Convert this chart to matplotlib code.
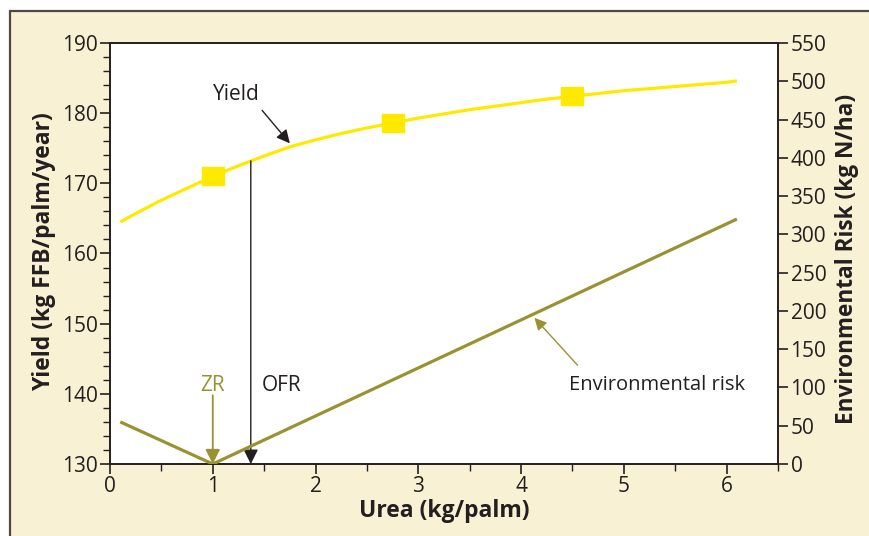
import numpy as np
import matplotlib.pyplot as plt
from matplotlib.patches import Rectangle
from matplotlib.ticker import MultipleLocator

plt.rcParams['font.family'] = ['Open Sans', 'DejaVu Sans']

# yield curve (kg FFB/palm/year)
urea_yield = [0.1, 0.25, 0.5, 0.75, 1.0, 1.25, 1.5, 1.75, 2.0, 2.25, 2.5, 2.75, 3.0,
              3.25, 3.5, 3.75, 4.0, 4.25, 4.5, 4.75, 5.0, 5.25, 5.5, 5.75, 6.0, 6.1]
yield_vals = [164.5, 165.7, 167.6, 169.3, 171.0, 172.5, 173.9, 175.2, 176.2, 177.1, 177.9, 178.6, 179.3,
              179.9, 180.5, 181.0, 181.5, 182.0, 182.4, 182.8, 183.2, 183.5, 183.8, 184.1, 184.4, 184.6]
# marker points on the yield curve
urea_marks = [1.0, 2.75, 4.5]
yield_marks = [171.0, 178.6, 182.4]
# environmental risk (kg N/ha)
urea_risk = [0.1, 1.0, 6.1]
risk_vals = [55, 0, 320]

zr = 1.0
ofr = 1.37
ofr_yield = 173.2

cream = '#f9f1d3'
yellow = '#ffe900'
olive = '#9a9232'
dark = '#231f20'

fig = plt.figure(figsize=(8.69, 5.36), dpi=100)
fig.patch.set_facecolor('white')
fig.patches.append(Rectangle((9.5 / 869, -0.05), 1.2, 1 - 11 / 536 + 0.05,
                             transform=fig.transFigure, facecolor=cream,
                             edgecolor='#4a4a4a', linewidth=1.6, zorder=-10))

ax = fig.add_axes([110 / 869, 1 - 464 / 536, 668 / 869, 421 / 536])
ax.set_facecolor('white')
ax2 = ax.twinx()

# wide, flat square marker like the original
box = [(-1, -0.77), (1, -0.77), (1, 0.77), (-1, 0.77), (-1, -0.77)]
ax.plot(urea_yield, yield_vals, color=yellow, lw=2.3, zorder=3, solid_capstyle='butt')
ax.plot(urea_marks, yield_marks, ls='none', marker=box, color=yellow, ms=16, zorder=4)
ax2.plot(urea_risk, risk_vals, color=olive, lw=2.3, zorder=3, solid_capstyle='butt')

ax.set_xlim(0, 6.5)
ax.set_ylim(130, 190)
ax2.set_ylim(0, 550)

# OFR vertical arrow
ax.annotate('', xy=(ofr, 130), xytext=(ofr, ofr_yield),
            arrowprops=dict(arrowstyle='-|>', color=dark, lw=1.0,
                            mutation_scale=22, shrinkA=0, shrinkB=0))
ax.text(ofr + 0.11, 141.2, 'OFR', color=dark, fontsize=15, va='center', ha='left')

# ZR arrow
ax.annotate('', xy=(zr, 130), xytext=(zr, 139.8),
            arrowprops=dict(arrowstyle='-|>', color=olive, lw=1.3,
                            mutation_scale=22, shrinkA=0, shrinkB=0))
ax.text(zr, 141.2, 'ZR', color=olive, fontsize=15, va='center', ha='center')

# labels and their pointer arrows
ax.text(1.23, 182.7, 'Yield', fontsize=15, color=dark, ha='center', va='center')
ax.annotate('', xy=(1.75, 175.7), xytext=(1.48, 180.4),
            arrowprops=dict(arrowstyle='-|>', color=dark, lw=1.0,
                            mutation_scale=20, shrinkA=0, shrinkB=0))
ax2.text(5.32, 103, 'Environmental risk', fontsize=14.5, color=dark, ha='center', va='center')
ax2.annotate('', xy=(4.13, 191), xytext=(4.55, 129),
             arrowprops=dict(arrowstyle='-|>', color=olive, lw=1.0,
                             mutation_scale=18, shrinkA=0, shrinkB=0))

ax.xaxis.set_major_locator(MultipleLocator(1))
ax.xaxis.set_minor_locator(MultipleLocator(0.5))
ax.yaxis.set_major_locator(MultipleLocator(10))
ax.yaxis.set_minor_locator(MultipleLocator(2))
ax2.yaxis.set_major_locator(MultipleLocator(50))

for a in (ax, ax2):
    for s in a.spines.values():
        s.set_color(dark)
        s.set_linewidth(1.2)
    a.tick_params(which='major', length=7, width=1.2, color=dark,
                  labelsize=15, labelcolor=dark, pad=2)
    a.tick_params(which='minor', length=5, width=1.0, color=dark)

ax.set_xlabel('Urea (kg/palm)', fontsize=16.5, fontweight='bold', color=dark)
ax.set_ylabel('Yield (kg FFB/palm/year)', fontsize=16.5, fontweight='bold', color=dark)
ax2.set_ylabel('Environmental Risk (kg N/ha)', fontsize=16.3, fontweight='bold', color=dark,
               rotation=90)
ax.xaxis.set_label_coords(0.5, -0.083)
ax.yaxis.set_label_coords(-0.081, 0.505)
ax2.yaxis.set_label_coords(1.085, 0.488)

fig.savefig('out.png', dpi=100, facecolor=fig.get_facecolor())
